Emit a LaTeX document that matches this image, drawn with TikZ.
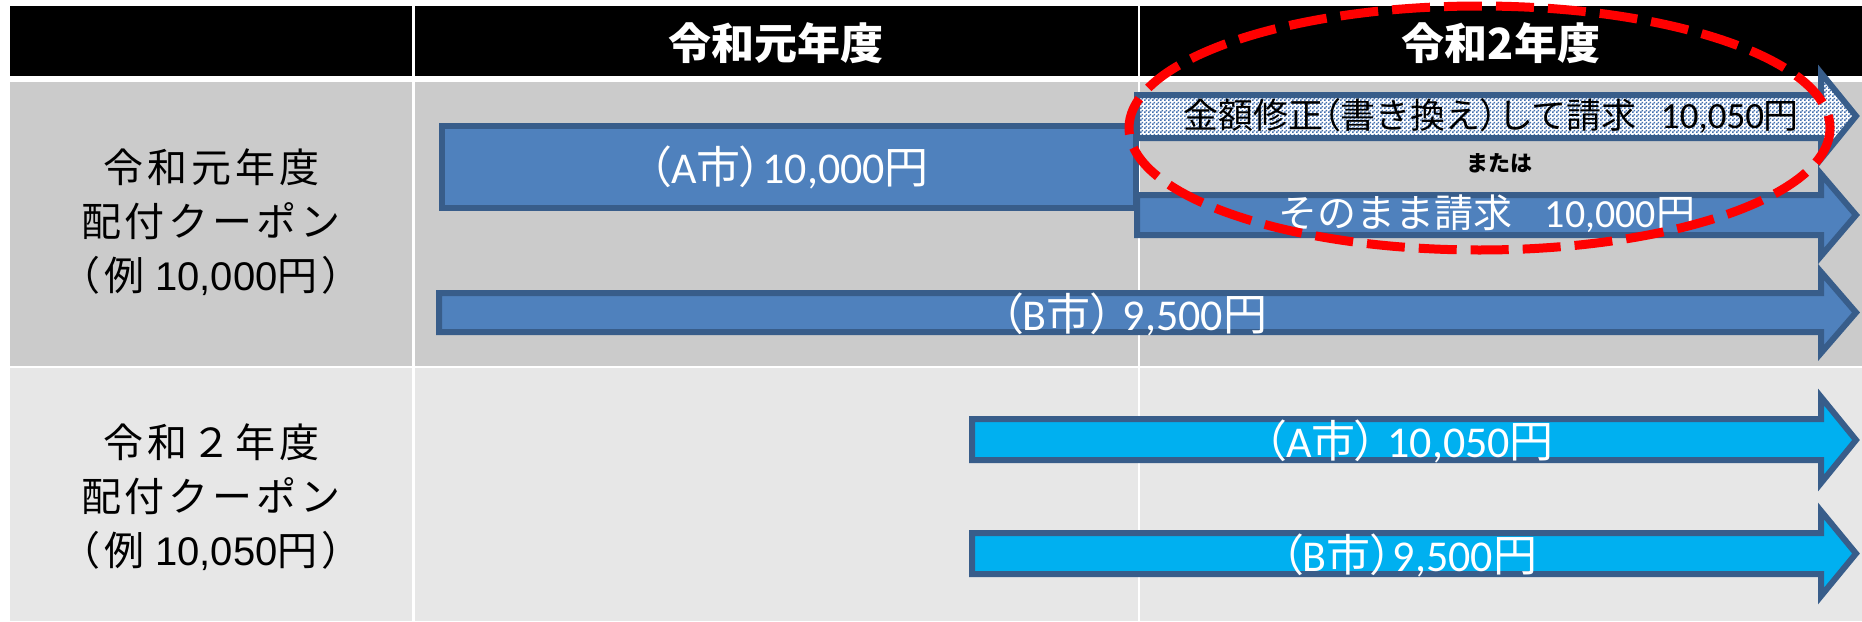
\documentclass[tikz,border=0pt]{standalone}
\usepackage{fontspec}
\usetikzlibrary{patterns}
\newfontfamily\jp{Noto Sans CJK JP}
\newfontfamily\jpp{Noto Sans CJK JP}[RawFeature=+palt]
\newfontfamily\jpls{Noto Sans CJK JP}[LetterSpace=10]
\newfontfamily\carl{Carlito}
\newfontfamily\arl{Liberation Sans}
\definecolor{bfill}{HTML}{4F81BD}
\definecolor{bline}{HTML}{385D8A}
\definecolor{pcol}{HTML}{4470AE}
\definecolor{cyanf}{HTML}{00B0F0}
\definecolor{rowa}{HTML}{CBCBCB}
\definecolor{rowb}{HTML}{E7E7E7}
\definecolor{redd}{HTML}{FF0000}
\pgfdeclarepatternformonly{finecheck}{\pgfpointorigin}{\pgfqpoint{2pt}{2pt}}{\pgfqpoint{2pt}{2pt}}{%
  \pgfpathrectangle{\pgfpointorigin}{\pgfqpoint{1pt}{1pt}}%
  \pgfpathrectangle{\pgfqpoint{1pt}{1pt}}{\pgfqpoint{1pt}{1pt}}%
  \pgfusepath{fill}}
\newcommand\Jt[1]{{\jpp #1}}
\newcommand\Ct[1]{{\carl #1}}
\newcommand\At[1]{{\arl #1}}
\begin{document}
\begin{tikzpicture}[x=0.5pt,y=-0.5pt,
  bluebox/.style={fill=bfill,draw=bline,line width=3pt,line join=miter},
  cyanbox/.style={fill=cyanf,draw=bline,line width=3pt,line join=miter},
  patbox/.style={preaction={fill=white},pattern=finecheck,pattern color=pcol,draw=bline,line width=3pt,line join=miter},
  redline/.style={draw=redd,line width=4.5pt,dash pattern=on 19pt off 7pt},
  headtxt/.style={text=white,inner sep=0,font=\jp\bfseries\fontsize{21.5}{24}\selectfont},
  lefttxt/.style={text=black,inner sep=0,align=center,font=\jpls\fontsize{20}{27}\selectfont},
  wtxt/.style={text=white,inner sep=0,font=\jpp\fontsize{22}{24}\selectfont},
  btxt/.style={text=black,inner sep=0,font=\jp\fontsize{17.5}{20}\selectfont},
  stxt/.style={text=white,inner sep=0,font=\jp\fontsize{19.5}{22}\selectfont},
  ortxt/.style={text=black,inner sep=0,font=\jp\bfseries\fontsize{11}{13}\selectfont}]
\fill[white] (0,0) rectangle (1862,621);
\useasboundingbox (0,0) rectangle (1862,621);
% table
\fill[black] (10,6) rectangle (1862,76);
\fill[rowa] (10,82) rectangle (1862,366);
\fill[rowb] (10,368) rectangle (1862,621);
\fill[white] (412,0) rectangle (415,621);
\fill[white] (1138,0) rectangle (1140,621);
% header texts
\node[headtxt] (h1) at (776,43) {令和元年度};
\node[headtxt] (h2) at (1501,43) {令和2年度};
% left column
\node[lefttxt] (l1) at (211,222) {令和元年度\\配付クーポン\\（例\At{ 10,000}円）};
\node[lefttxt] (l2) at (211,497) {令和２年度\\配付クーポン\\（例\At{ 10,050}円）};
% bars
\draw[bluebox] (442,126) rectangle (1136,208);
\draw[bluebox] (439,293) -- (1821,293) -- (1821,272) -- (1856,312.5) -- (1821,353) -- (1821,332) -- (439,332) -- cycle;
\draw[patbox] (1137,95) -- (1821,95) -- (1821,73) -- (1856,116) -- (1821,159) -- (1821,138) -- (1137,138) -- cycle;
\draw[bluebox] (1137,195) -- (1821,195) -- (1821,174) -- (1856,215) -- (1821,256) -- (1821,235) -- (1137,235) -- cycle;
\draw[cyanbox] (972,419) -- (1821,419) -- (1821,397) -- (1856,440) -- (1821,483) -- (1821,460) -- (972,460) -- cycle;
\draw[cyanbox] (972,533) -- (1821,533) -- (1821,511) -- (1856,553.5) -- (1821,596) -- (1821,574) -- (972,574) -- cycle;
% bar texts
\node[wtxt] (tA) at (789,167) {（\Ct{A}市）\Ct{10,000}円};
\node[wtxt] (tB) at (1134,314) {（\Ct{B}市）\Ct{ 9,500}円};
\node[btxt] (tP) at (1491,116) {金額修正\Jt{（}書き換え\Jt{）}して請求\hspace{12pt}{\carl\fontsize{18.5}{20}\selectfont 10,050}円};
\node[ortxt] (tO) at (1499,163) {または};
\node[stxt] (tS) at (1487,214) {そのまま請求\hspace{16pt}{\carl\fontsize{20}{22}\selectfont 10,000}円};
\node[wtxt] (tC1) at (1409,441) {（\Ct{A}市）\Ct{ 10,050}円};
\node[wtxt] (tC2) at (1409,555) {（\Ct{B}市）\Ct{9,500}円};
% red dashed ellipse
\draw[redline] (1479.5,128) ellipse [x radius=350.5, y radius=122];
\end{tikzpicture}
\end{document}
